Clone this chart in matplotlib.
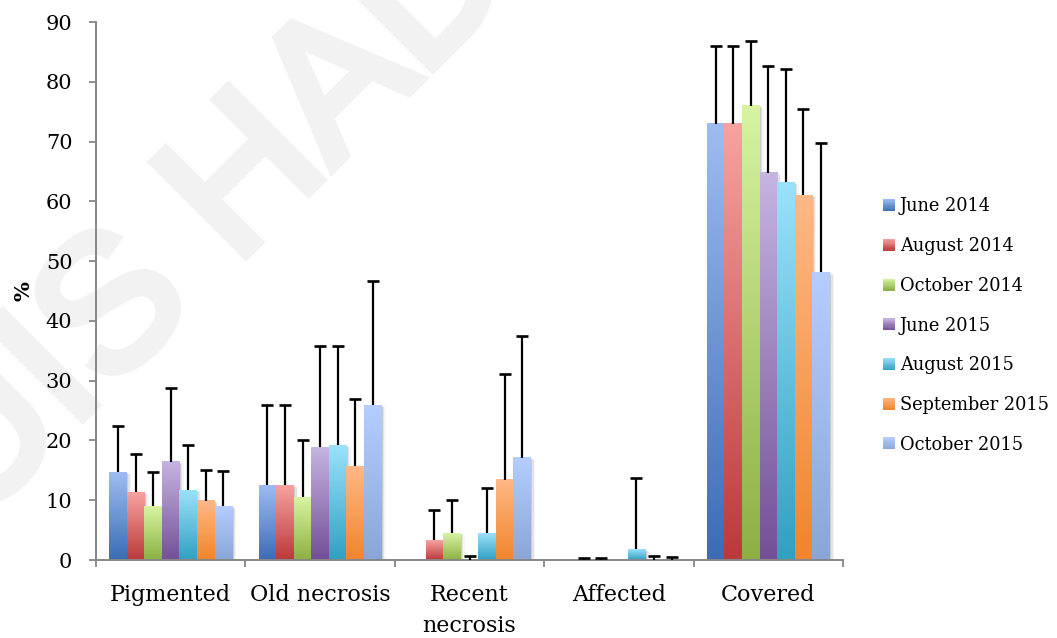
import numpy as np
import matplotlib
matplotlib.use("Agg")
import matplotlib.pyplot as plt
from matplotlib.patches import Rectangle
from matplotlib.legend_handler import HandlerBase
from matplotlib.colors import to_rgb
from matplotlib import transforms
from matplotlib import patheffects

# ---- data -----------------------------------------------------------------
categories = ["Pigmented", "Old necrosis", "Recent\nnecrosis", "Affected", "Covered"]
periods = ["June 2014", "August 2014", "October 2014", "June 2015",
           "August 2015", "September 2015", "October 2015"]

june_2014 = [14.7, 12.5, 0.0, 0.0, 73.0]
june_2014_sd = [7.8, 13.4, 0.0, 0.0, 13.0]
august_2014 = [11.3, 12.5, 3.3, 0.0, 73.0]
august_2014_sd = [6.4, 13.4, 5.0, 0.4, 13.0]
october_2014 = [9.0, 10.5, 4.5, 0.0, 76.0]
october_2014_sd = [5.7, 9.6, 5.5, 0.4, 10.8]
june_2015 = [16.4, 18.9, 0.0, 0.0, 64.8]
june_2015_sd = [12.4, 16.9, 0.7, 0.0, 17.9]
august_2015 = [11.7, 19.2, 4.5, 1.8, 63.2]
august_2015_sd = [7.5, 16.6, 7.6, 11.9, 18.9]
september_2015 = [9.9, 15.7, 13.4, 0.0, 61.0]
september_2015_sd = [5.2, 11.2, 17.7, 0.6, 14.5]
october_2015 = [9.0, 25.9, 17.1, 0.0, 48.1]
october_2015_sd = [5.9, 20.8, 20.4, 0.5, 21.6]

means = [june_2014, august_2014, october_2014, june_2015,
         august_2015, september_2015, october_2015]
sds = [june_2014_sd, august_2014_sd, october_2014_sd, june_2015_sd,
       august_2015_sd, september_2015_sd, october_2015_sd]

# (bottom colour, top colour) of each series' vertical gradient
gradients = [("#3a6db6", "#9ebcf2"),
             ("#ba3a39", "#f8a2a0"),
             ("#8cb044", "#d7f4a2"),
             ("#725097", "#c6b4e1"),
             ("#31a0c1", "#9be1fb"),
             ("#f0852b", "#ffb886"),
             ("#89a6d7", "#b4cefe")]

y_ticks = [0, 10, 20, 30, 40, 50, 60, 70, 80, 90]

SERIF = "DejaVu Serif"
AXIS_GREY = "#878787"
WATERMARK_GREY = "#f2f2f2"

# ---- figure ---------------------------------------------------------------
fig = plt.figure(figsize=(10.57, 6.38), dpi=100)
fig.patch.set_facecolor("white")

# faint background watermark
fig.text(0.200, 0.655, "UIS HAD", rotation=45, rotation_mode="anchor",
         ha="center", va="center", fontsize=137, color=WATERMARK_GREY,
         family="Liberation Sans", zorder=0,
         path_effects=[patheffects.withStroke(linewidth=7,
                                              foreground=WATERMARK_GREY,
                                              joinstyle="miter")])

ax = fig.add_axes([96 / 1057, 78 / 638, 747 / 1057, 538 / 638])
ax.set_zorder(1)
ax.patch.set_alpha(0)

n_series = len(periods)
bar_w = 1.0 / (n_series + 1.5)
x_groups = np.arange(len(categories))


def shadow_transform(dx, dy):
    return ax.transData + transforms.ScaledTranslation(dx / 72, -dy / 72,
                                                       fig.dpi_scale_trans)


for j, (vals, errs, (c_bot, c_top)) in enumerate(zip(means, sds, gradients)):
    xs = x_groups + (j - (n_series - 1) / 2) * bar_w
    bot, top = np.array(to_rgb(c_bot)), np.array(to_rgb(c_top))
    grad = np.linspace(bot, top, 128)[:, None, :]
    for x, v in zip(xs, vals):
        if v <= 0:
            continue
        # soft drop shadow
        for k, a in zip((1.0, 2.0, 3.0), (0.10, 0.07, 0.04)):
            ax.add_patch(Rectangle((x - bar_w / 2, 0), bar_w, v,
                                   facecolor="black", alpha=a, lw=0,
                                   transform=shadow_transform(k, k * 0.5),
                                   zorder=1.5))
        ax.imshow(grad, extent=(x - bar_w / 2, x + bar_w / 2, 0, v),
                  origin="lower", aspect="auto", interpolation="bilinear",
                  zorder=2)
    # upper error bars
    vals_a, errs_a = np.array(vals), np.array(errs)
    keep = errs_a > 0
    ax.errorbar(xs[keep], vals_a[keep], yerr=[np.zeros(keep.sum()), errs_a[keep]],
                fmt="none", ecolor="black", elinewidth=1.6, capsize=0, zorder=3)
    ax.plot(xs[keep], (vals_a + errs_a)[keep], linestyle="none", marker="_",
            markersize=9, markeredgewidth=1.9, color="black", zorder=3)

ax.set_xlim(-0.5, len(categories) - 0.5)
ax.set_ylim(0, 90)

# axes styling
for side in ("top", "right"):
    ax.spines[side].set_visible(False)
for side in ("left", "bottom"):
    ax.spines[side].set_color(AXIS_GREY)
    ax.spines[side].set_linewidth(1.4)

ax.set_yticks(y_ticks)
ax.set_yticklabels([str(t) for t in y_ticks], family=SERIF, fontsize=15)
ax.tick_params(axis="y", length=5, width=1.3, color=AXIS_GREY, pad=12)

ax.set_xticks(x_groups)
ax.set_xticklabels(categories, family=SERIF, fontsize=16, linespacing=1.55)
ax.tick_params(axis="x", which="major", length=0, pad=17)
ax.set_xticks(np.arange(len(categories) + 1) - 0.5, minor=True)
ax.tick_params(axis="x", which="minor", length=5, width=1.3, color=AXIS_GREY)

ax.set_ylabel("%", family=SERIF, fontsize=15, fontweight="bold", labelpad=9)


# legend with gradient swatches
class GradientSwatch(Rectangle):
    def __init__(self, c_bot, c_top, label):
        super().__init__((0, 0), 1, 1, label=label)
        self.c_bot = np.array(to_rgb(c_bot))
        self.c_top = np.array(to_rgb(c_top))


class GradientSwatchHandler(HandlerBase):
    def create_artists(self, legend, orig_handle, xdescent, ydescent,
                       width, height, fontsize, trans):
        n = 10
        arts = []
        for k in range(n):
            f = (k + 0.5) / n
            c = orig_handle.c_bot + (orig_handle.c_top - orig_handle.c_bot) * f
            arts.append(Rectangle((-xdescent, -ydescent + k * height / n),
                                  width, height / n * 1.05, facecolor=c,
                                  edgecolor="none", transform=trans))
        return arts


handles = [GradientSwatch(b, t, p) for (b, t), p in zip(gradients, periods)]
fig.legend(handles, periods, handler_map={GradientSwatch: GradientSwatchHandler()},
           loc="center left", bbox_to_anchor=(883 / 1057, 1 - 325.5 / 638),
           frameon=False, borderaxespad=0, borderpad=0,
           prop={"family": SERIF, "size": 12.8},
           handlelength=0.65, handleheight=0.65, handletextpad=0.3,
           labelspacing=1.22)

fig.savefig("out.png", dpi=100, facecolor="white")
